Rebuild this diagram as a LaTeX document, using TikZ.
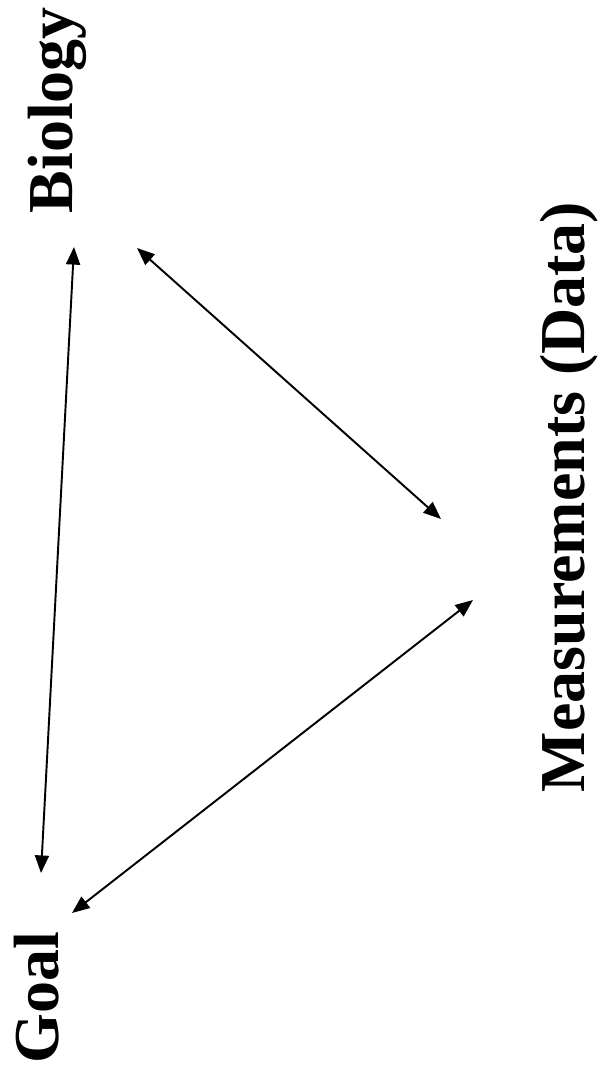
\documentclass[tikz,border=0pt]{standalone}
\usepackage{fontspec}
\setmainfont{Liberation Serif}
\usetikzlibrary{arrows.meta}

\tikzset{
  corner/.style={font=\fontsize{18.2}{22}\selectfont\bfseries, rotate=90, inner sep=0pt, anchor=base west},
  link/.style={{Triangle[length=5pt,width=4pt]}-{Triangle[length=5pt,width=4pt]}, line width=0.55pt},
}

\begin{document}
\begin{tikzpicture}[x=0.01cm,y=-0.01cm]
\useasboundingbox (0,0) rectangle (600,1078);
\node[corner] (bio) at (73,214) {Biology};
\node[corner] (meas) at (584,793) {Measurements (Data)};
\node[corner] (goal) at (58,1064) {Goal};
\coordinate (bio-g) at (74,247);
\coordinate (bio-m) at (137,248);
\coordinate (meas-b) at (441,519);
\coordinate (meas-g) at (473,600);
\coordinate (goal-b) at (41,873);
\coordinate (goal-m) at (72,913);
\draw[link] (bio-g) -- (goal-b);
\draw[link] (bio-m) -- (meas-b);
\draw[link] (meas-g) -- (goal-m);
\end{tikzpicture}
\end{document}
